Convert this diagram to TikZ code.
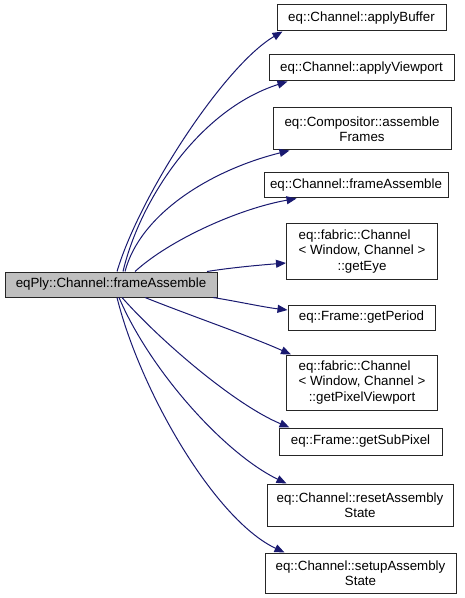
\documentclass[tikz,border=0pt]{standalone}
\usepackage{fontspec}
\setmainfont{Liberation Sans}
\usepackage{calc}
\usetikzlibrary{arrows.meta,calc}
\definecolor{edgeblue}{RGB}{25,25,112}
\definecolor{maingray}{RGB}{191,191,191}
\newcommand{\padleft}[2]{\makebox[\widthof{#2}][l]{#1}}
\tikzset{
  fnbox/.style={draw=black!85, line width=0.75pt, fill=white, inner sep=0pt,
    align=center, font=\fontsize{10}{11.5}\selectfont},
  mainbox/.style={fnbox, fill=maingray},
  callarrow/.style={draw=edgeblue, line width=0.75pt,
    -{Triangle[length=7.5pt,width=6pt]}, color=edgeblue}
}
\begin{document}
\begin{tikzpicture}[x=0.75pt,y=0.75pt,yscale=-1,xscale=1]
    \useasboundingbox (0,0) rectangle (464,598);
    % caller
    \node [mainbox, minimum width=159pt, minimum height=18.75pt] (main) at (111,284.5) {eqPly::Channel::frameAssemble};
    % callees
    \node [fnbox, minimum width=126.75pt, minimum height=19.5pt] (buf) at (361.5,18) {eq::Channel::applyBuffer};
    \node [fnbox, minimum width=138.75pt, minimum height=19.5pt] (view) at (361.5,68) {eq::Channel::applyViewport};
    \node [fnbox, minimum width=133.5pt, minimum height=31.5pt] (comp) at (362,129) {eq::Compositor::assemble\\Frames};
    \node [fnbox, minimum width=138pt, minimum height=18.75pt] (frame) at (356,185.5) {eq::Channel::frameAssemble};
    \node [fnbox, minimum width=113.25pt, minimum height=41.25pt] (eye) at (362,251.5) {\padleft{eq::fabric::Channel}{< Window, Channel >}\\< Window, Channel >\\::getEye};
    \node [fnbox, minimum width=110.25pt, minimum height=18.75pt] (period) at (361.5,317.5) {eq::Frame::getPeriod};
    \node [fnbox, minimum width=113.25pt, minimum height=41.25pt] (pixvp) at (362,382.5) {\padleft{eq::fabric::Channel}{< Window, Channel >}\\< Window, Channel >\\::getPixelViewport};
    \node [fnbox, minimum width=122.25pt, minimum height=20.25pt] (subpix) at (360.5,441.5) {eq::Frame::getSubPixel};
    \node [fnbox, minimum width=139.5pt, minimum height=31.5pt] (reset) at (360,505) {eq::Channel::resetAssembly\\State};
    \node [fnbox, minimum width=143.25pt, minimum height=30pt] (setup) at (360.5,573) {eq::Channel::setupAssembly\\State};
    % calls
    \draw [callarrow] ($(main.north)+(6,0)$) .. controls +(23,-77) and +(-58,34) .. ($(buf.south west)+(6,0)$);
    \draw [callarrow] ($(main.north)+(12,0)$) .. controls +(17,-72) and +(-88,28) .. ($(view.south west)+(19,0)$);
    \draw [callarrow] ($(main.north)+(14,0)$) .. controls +(15,-57) and +(-80,20) .. ($(comp.south west)+(17,0)$);
    \draw [callarrow] ($(main.north)+(24,0)$) .. controls +(35,-32) and +(-57,10) .. ($(frame.south west)+(33,0)$);
    \draw [callarrow] ($(main.north)+(96,0)$) .. controls +(25,-4) and +(-25,2) .. ($(eye.west)+(0,11.5)$);
    \draw [callarrow] ($(main.south)+(102,0)$) .. controls +(25,4) and +(-25,-3) .. ($(period.west)+(0,-7.5)$);
    \draw [callarrow] ($(main.south)+(34,0)$) .. controls +(45,18) and +(-40,-18) .. ($(pixvp.north west)+(5,0)$);
    \draw [callarrow] ($(main.south)+(11,0)$) .. controls +(38,43) and +(-55,-23) .. ($(subpix.north west)+(11,0)$);
    \draw [callarrow] ($(main.south)+(8,0)$) .. controls +(31,73) and +(-62,-30) .. ($(reset.north west)+(20,0)$);
    \draw [callarrow] ($(main.south)+(6,0)$) .. controls +(23,93) and +(-70,-33) .. ($(setup.north west)+(20,0)$);
\end{tikzpicture}
\end{document}
